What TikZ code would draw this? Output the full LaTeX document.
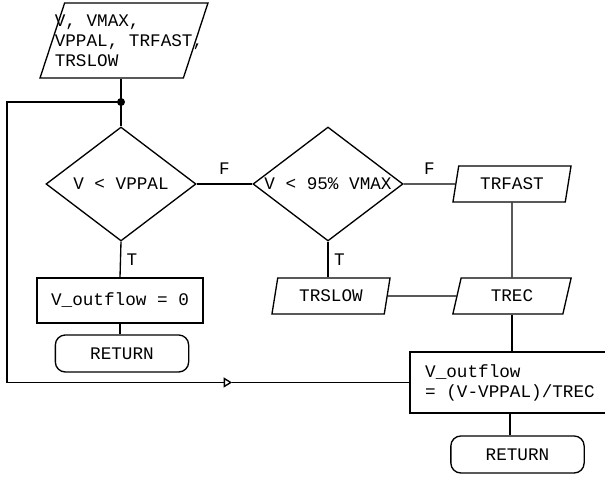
\documentclass[tikz,border=0pt]{standalone}
\usepackage{fontspec}
\setmainfont{Liberation Mono}
\usetikzlibrary{shapes.geometric,arrows.meta}

\tikzset{
  flow/.style={draw, line width=0.8pt, inner sep=0pt},
  decide/.style={flow, diamond, aspect=1.32, minimum width=90pt, minimum height=68.4pt},
  io/.style={flow, trapezium, trapezium left angle=74, trapezium right angle=106,
    trapezium stretches=true, minimum width=71pt, minimum height=21.6pt},
  proc/.style={flow, rectangle},
  stop/.style={flow, rectangle, rounded corners=6pt, minimum width=80pt, minimum height=22.2pt},
  line/.style={line width=0.8pt},
}

\begin{document}
\begin{tikzpicture}[x=0.6pt, y=-0.6pt, font=\fontsize{10.6}{12}\selectfont]
  \useasboundingbox (0,0) rectangle (605,477);

  % nodes
  \node[io, inner sep=2pt, trapezium left angle=78.3, trapezium right angle=101.7,
    minimum width=100.8pt, minimum height=45pt,
    label={[align=left, xshift=3pt]center:{V, VMAX,\\VPPAL, TRFAST,\\TRSLOW}}] (inp) at (124,40.5) {};
  \coordinate (j) at (121,102);
  \node[decide] (d1) at (121,184) {V < VPPAL};
  \node[decide] (d2) at (328,184) {V < 95\% VMAX};
  \node[io] (trfast) at (512,184) {TRFAST};
  \node[io] (trslow) at (331,296) {TRSLOW};
  \node[io] (trec) at (512,296) {TREC};
  \node[proc, minimum width=99.6pt, minimum height=27pt] (zero) at (120,300.5) {V\_outflow = 0};
  \node[stop] (ret1) at (122,353.5) {RETURN};
  \node[proc, minimum width=120pt, minimum height=36.6pt, align=left] (calc) at (510,382.5)
    {V\_outflow\\= (V-VPPAL)/TREC};
  \node[stop] (ret2) at (517.5,454.5) {RETURN};
  \coordinate (lb) at (7,382.5);
  \coordinate (tip) at (232,382.5);

  % connectors
  \draw[line] (inp.south -| j) -- (j) -- (d1.north);
  \fill (j) circle (2.4pt);
  \draw[line] (d1.east) -- node[above=2pt] {F} (d2.west);
  \draw[line] (d2.east) -- node[above=2pt] {F} (trfast.west);
  \draw[line] (d1.south) -- node[right] {T} (zero.north);
  \draw[line] (zero.south) -- (zero.south |- ret1.north);
  \draw[line] (d2.south) -- node[right] {T} (d2.south |- trslow.north);
  \draw[line] (trfast.south) -- (trec.north);
  \draw[line] (trslow.east) -- (trec.west);
  \draw[line] (trec.south) -- (trec.south |- calc.north);
  \draw[line] (calc.south) -- (calc.south |- ret2.north);

  % loop back
  \draw[line, -{Triangle[open, length=5pt, width=6pt]}] (j) -| (lb) -- (tip);
  \draw[line] (tip) -- (calc.west);
\end{tikzpicture}
\end{document}
